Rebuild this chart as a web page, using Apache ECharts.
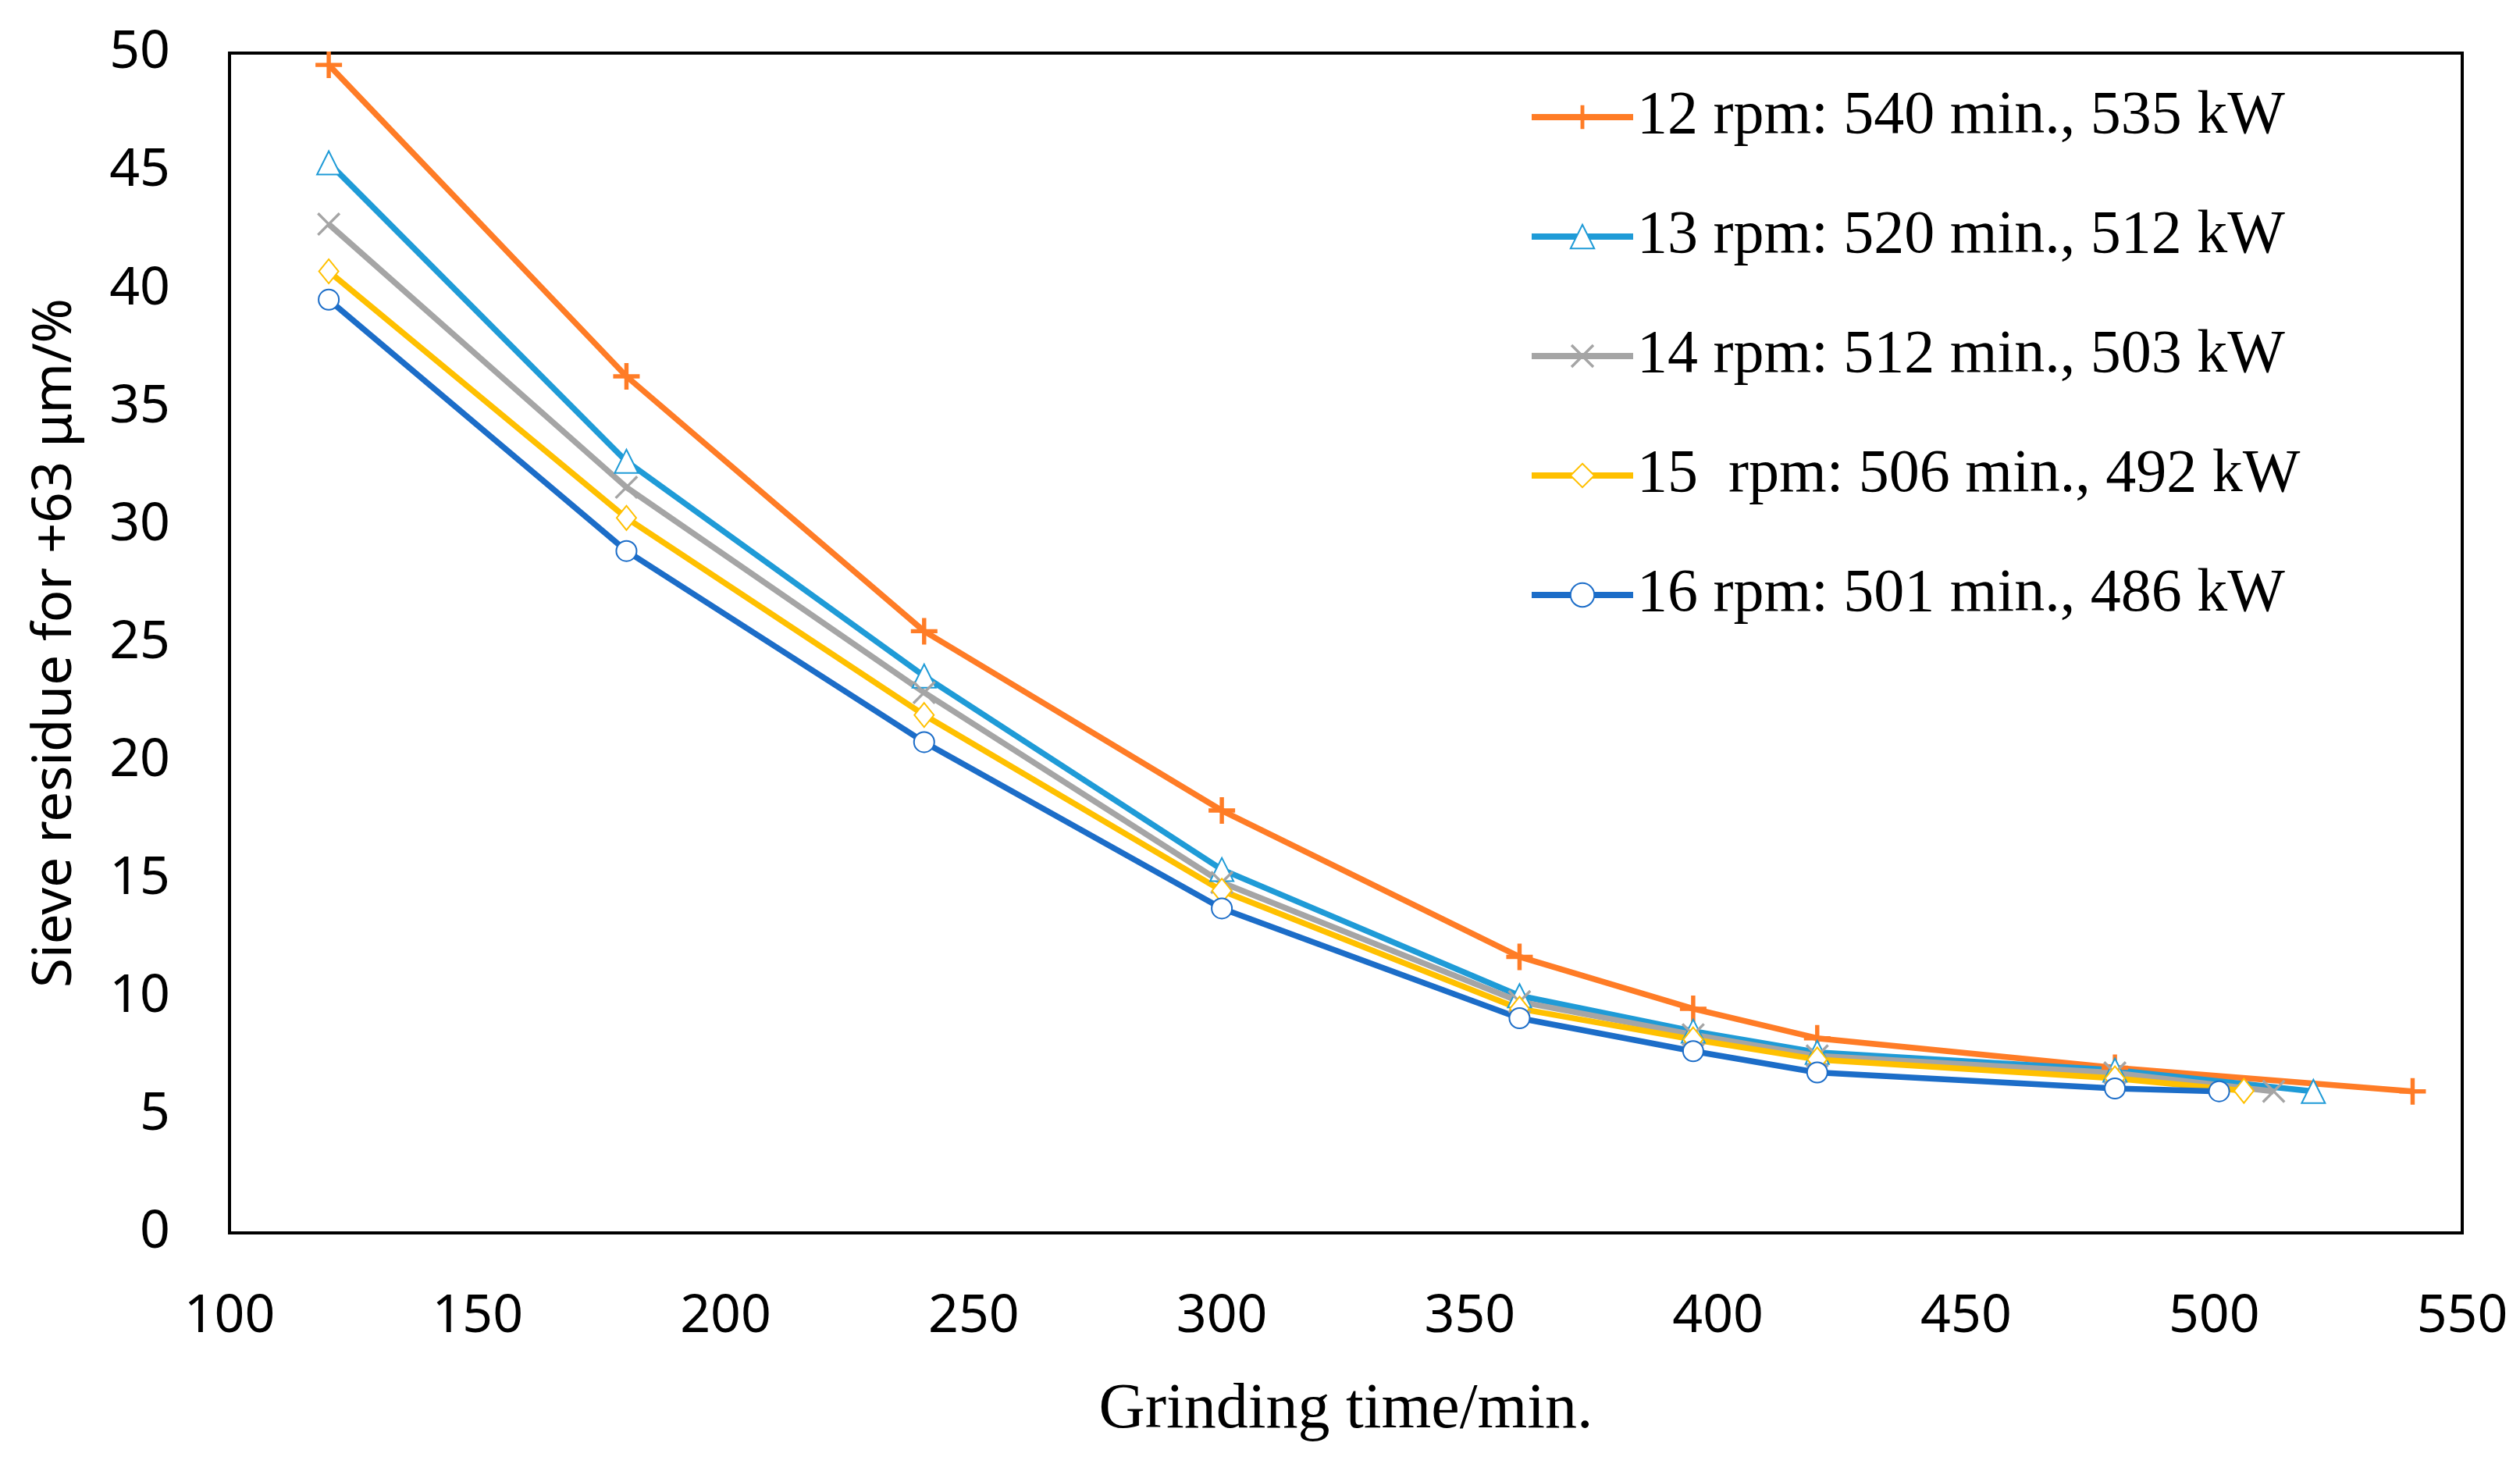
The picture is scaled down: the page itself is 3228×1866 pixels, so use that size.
<!DOCTYPE html>
<html>
<head>
<meta charset="utf-8">
<script src="https://cdn.jsdelivr.net/npm/echarts@6/dist/echarts.min.js"></script>
<style>
html,body{margin:0;padding:0;background:#fff;}
#chart{width:3228px;height:1866px;}
</style>
</head>
<body>
<div id="chart"></div>
<script>
// ---- data ----
const seriesNames = [
  '12 rpm: 540 min., 535 kW',
  '13 rpm: 520 min., 512 kW',
  '14 rpm: 512 min., 503 kW',
  '15  rpm: 506 min., 492 kW',
  '16 rpm: 501 min., 486 kW'
];
const times12 = [120, 180, 240, 300, 360, 395, 420, 480, 540];
const times13 = [120, 180, 240, 300, 360, 395, 420, 480, 520];
const times14 = [120, 180, 240, 300, 360, 395, 420, 480, 512];
const times15 = [120, 180, 240, 300, 360, 395, 420, 480, 506];
const times16 = [120, 180, 240, 300, 360, 395, 420, 480, 501];
const residue12 = [49.5, 36.3, 25.5, 17.9, 11.7, 9.5, 8.25, 7.0, 6.0];
const residue13 = [45.35, 32.7, 23.6, 15.4, 10.05, 8.55, 7.65, 6.9, 6.0];
const residue14 = [42.75, 31.6, 22.9, 14.85, 9.8, 8.4, 7.5, 6.78, 6.0];
const residue15 = [40.75, 30.3, 21.95, 14.5, 9.5, 8.2, 7.35, 6.55, 6.02];
const residue16 = [39.55, 28.9, 20.8, 13.75, 9.1, 7.7, 6.8, 6.12, 6.0];
const xTicks = [100, 150, 200, 250, 300, 350, 400, 450, 500, 550];
const yTicks = [0, 5, 10, 15, 20, 25, 30, 35, 40, 45, 50];

// ---- styling ----
const colors = ['#FF7C26', '#1F9BD7', '#A5A5A5', '#FFC000', '#1C6DC8'];
const plusPath = 'path://M4.2,0 L5.8,0 L5.8,4.2 L10,4.2 L10,5.8 L5.8,5.8 L5.8,10 L4.2,10 L4.2,5.8 L0,5.8 L0,4.2 L4.2,4.2 Z';
const crossPath = 'path://M0,0.8 L0.8,0 L5,4.2 L9.2,0 L10,0.8 L5.8,5 L10,9.2 L9.2,10 L5,5.8 L0.8,10 L0,9.2 L4.2,5 Z';
const symbols = [plusPath, 'emptyTriangle', crossPath, 'emptyDiamond', 'emptyCircle'];
const symbolSizes = [34, 30, 30, [25, 31], 26];
const borderWidths = [0, 3.5, 0, 3.5, 3.5];

const timesAll = [times12, times13, times14, times15, times16];
const residueAll = [residue12, residue13, residue14, residue15, residue16];

const series = seriesNames.map((name, i) => ({
  name: name,
  type: 'line',
  data: timesAll[i].map((t, k) => [t, residueAll[i][k]]),
  symbol: symbols[i],
  symbolSize: symbolSizes[i],
  showAllSymbol: true,
  lineStyle: { color: colors[i], width: 7.5 },
  itemStyle: { color: colors[i], borderColor: colors[i], borderWidth: borderWidths[i] },
  emphasis: { disabled: true },
  animation: false
}));

const chart = echarts.init(document.getElementById('chart'));
chart.setOption({
  backgroundColor: '#fff',
  animation: false,
  grid: {
    left: 294, right: 74, top: 68, bottom: 287,
    show: true, borderColor: '#000', borderWidth: 4, backgroundColor: 'transparent',
    containLabel: false
  },
  legend: {
    orient: 'vertical',
    left: 1953,
    top: 105,
    itemWidth: 130,
    itemHeight: 38,
    itemGap: 73,
    data: seriesNames,
    lineStyle: { width: 8 },
    textStyle: { fontFamily: 'Liberation Serif', fontSize: 78, color: '#000', lineHeight: 80 }
  },
  xAxis: {
    type: 'value',
    min: xTicks[0],
    max: xTicks[xTicks.length - 1],
    interval: xTicks[1] - xTicks[0],
    name: 'Grinding time/min.',
    nameLocation: 'middle',
    nameGap: 186,
    nameTextStyle: { fontFamily: 'Liberation Serif', fontSize: 82, color: '#000' },
    axisLine: { show: false },
    axisTick: { show: false },
    splitLine: { show: false },
    axisLabel: { fontFamily: 'Noto Sans', fontSize: 68, color: '#000', margin: 74 }
  },
  yAxis: {
    type: 'value',
    min: yTicks[0],
    max: yTicks[yTicks.length - 1],
    interval: yTicks[1] - yTicks[0],
    name: 'Sieve residue for +63 \u03bcm/%',
    nameLocation: 'middle',
    nameRotate: 90,
    nameGap: 188,
    nameTextStyle: { fontFamily: 'Noto Sans', fontSize: 69, color: '#000' },
    axisLine: { show: false },
    axisTick: { show: false },
    splitLine: { show: false },
    axisLabel: { fontFamily: 'Noto Sans', fontSize: 68, color: '#000', margin: 76 }
  },
  series: series
});
</script>
</body>
</html>
